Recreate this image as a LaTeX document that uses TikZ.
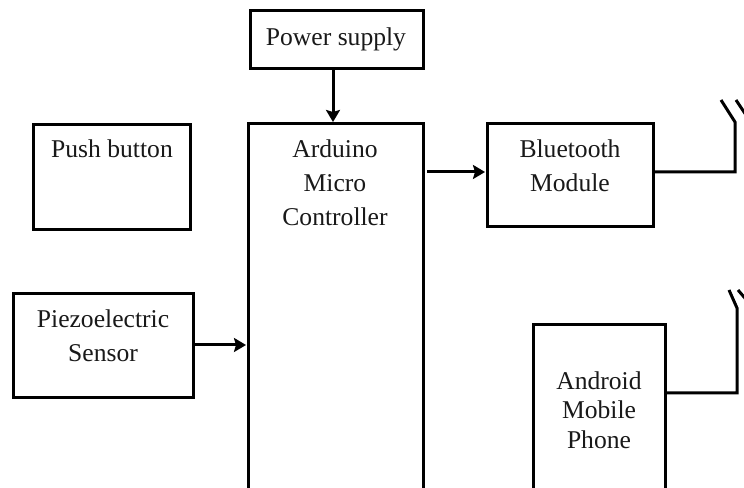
\documentclass[tikz,border=0pt]{standalone}
\usepackage{fontspec}
\setmainfont{Liberation Serif}
\usetikzlibrary{arrows.meta,calc}
\tikzset{
  blockbox/.style={draw=black,line width=3pt*0.75,fill=white,inner sep=0pt,rectangle,outer sep=0pt},
  caption/.style={font=\fontsize{19.2pt}{25.5pt}\selectfont,align=center,inner sep=0pt,text=black!90},
  wire/.style={draw=black,line width=3pt*0.75,line join=miter},
  feed/.style={wire,-{Stealth[length=9pt,width=10.5pt,inset=1.5pt]}}
}
\newcommand{\blockat}[5]{\node[blockbox,anchor=center,minimum width=#4*0.75pt,minimum height=#5*0.75pt] (#1) at ({#2+#4/2},{#3+#5/2}) {};}
\begin{document}
\begin{tikzpicture}[x=0.75pt,y=-0.75pt]
\useasboundingbox (0,0) rectangle (744,488);
\clip (0,0) rectangle (744,488);
\blockat{power}{250}{10.5}{173}{58.5}
\blockat{arduino}{248}{124}{175}{420}
\blockat{push}{33}{125}{157}{105}
\blockat{piezo}{13}{294}{180}{104}
\blockat{bt}{487}{124}{166}{103}
\blockat{android}{533}{325}{132}{220}
\node[caption] (tpower) at (336,39) {Power supply};
\node[caption] (tarduino) at (335,183) {Arduino\\Micro\\Controller};
\node[caption] (tpush) at (112,149) {Push button};
\node[caption] (tpiezo) at (103,336) {Piezoelectric\\Sensor};
\node[caption] (tbt) at (570,166) {Bluetooth\\Module};
\node[caption,font=\fontsize{19.2pt}{22.2pt}\selectfont] (tandroid) at (599,410) {Android\\Mobile\\Phone};
\draw[feed] (333,69) -- (333,122);
\draw[feed] (427,172) -- (485,172);
\draw[feed] (193,345) -- (246,345);
\coordinate (a1) at (735,172);
\coordinate (a1t) at (735,122);
\coordinate (a1e) at (721,100);
\coordinate (a1s) at (736,100);
\coordinate (a1f) at (748,118);
\draw[wire] (bt.east |- a1) -- (a1) -- (a1t) -- (a1e);
\draw[wire] (a1s) -- (a1f);
\coordinate (a2) at (737,393);
\coordinate (a2t) at (737,308);
\coordinate (a2e) at (729,290);
\coordinate (a2s) at (738,290);
\coordinate (a2f) at (750,304);
\draw[wire] (android.east |- a2) -- (a2) -- (a2t) -- (a2e);
\draw[wire] (a2s) -- (a2f);
\end{tikzpicture}
\end{document}
